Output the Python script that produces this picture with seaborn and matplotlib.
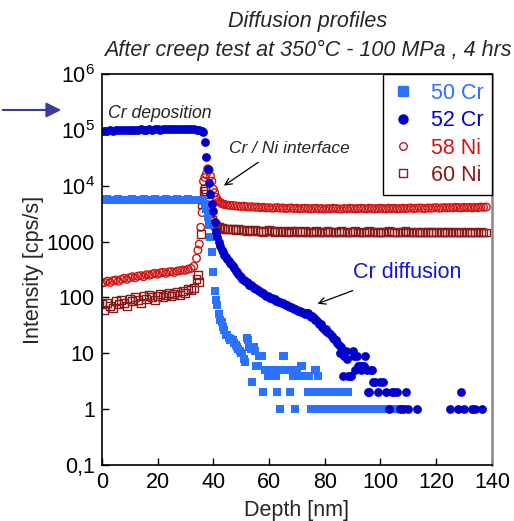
import numpy as np
import pandas as pd
import matplotlib
matplotlib.use("Agg")
import matplotlib.pyplot as plt
import seaborn as sns
from matplotlib.lines import Line2D
from matplotlib.ticker import NullLocator

nan = np.nan

# ---------------- data ----------------
# 50 Cr : plateau 0..35 nm every 1 nm, then every 0.5 nm from 36 nm
cr50_plateau = [5600, 5500, 5700, 5600, 5500, 5600, 5700, 5500, 5600, 5600,
                5500, 5700, 5600, 5500, 5600, 5700, 5600, 5500, 5600, 5700,
                5600, 5500, 5600, 5700, 5600, 5500, 5600, 5700, 5600, 5500,
                5600, 5700, 5600, 5500, 5600, 5600]
cr50_tail = [5600, 5400, 4800, 3800, 2800, 2000, 1200, 640,
             280, 130, 90, 74, 50, 40, 37, 30, 26, 21,
             21, 19, 17, 18, 17, 15, 14, 13, 12, 11,
             10, 10, 8, 7, 19, 17, 13, 12, 3, 13,
             11, 6, 6, 9, 9, 9, 2, 5, 5, 4,
             4, 5, 5, 5, 5, 4, 2, 5, 1, 5,
             9, 9, 5, 5, 5, 2, 5, 4, 5, 1,
             5, 4, 4, 6, 6, 4, 4, 4, 2, 4,
             1, 2, 1, 5, 5, 4, 2, 1, 2, 2,
             1, 2, 2, 1, 2, 1, 2, 1, 2, 1,
             2, 2, 1, 2, 1, 2, 1, 2, 1, 1,
             1, 1, 1, 1, 1, 1, 1, 1, 1, 1,
             1, 1, 1, 1, 1, 1, 1, 1, 1, 1,
             1, 1, 1, 1, 1, 1, 1, 1, nan, nan,
             nan, 1, 1, 1, 1, 1, 1]

# 52 Cr : plateau 0..35 nm every 1 nm, then every 0.5 nm from 36 nm, then sparse points
cr52_plateau = [96000, 97000, 95000, 98000, 97000, 99000, 98000, 100000, 99000, 101000,
                100000, 99000, 101000, 100000, 102000, 101000, 100000, 102000, 101000, 103000,
                102000, 101000, 103000, 102000, 104000, 103000, 102000, 104000, 103000, 104000,
                103000, 104000, 103000, 102000, 101000, 100000]
cr52_tail = [95000, 90000, 60000, 32000, 20000, 11000, 7000, 4800, 3500, 2200,
             1500, 1200, 1000, 850, 720, 640, 580, 520, 480, 450,
             420, 390, 360, 330, 300, 280, 260, 245, 230, 215,
             205, 195, 185, 178, 170, 165, 160, 150, 145, 140,
             135, 130, 125, 122, 118, 112, 108, 104, 103, 98,
             96, 93, 92, 88, 86, 84, 82, 80, 80, 76,
             74, 72, 70, 68, 68, 64, 62, 61, 60, 57,
             56, 55, 55, 53, 50, 52, 52, 48, 45, 46,
             42, 40, 40, 36, 33, 34, 30, 28, 26, 27,
             24, 23, 22, 20, 19, 18, 17, 15, 14, 10,
             13, 4, 9, 11, 8, 4, 4, 4, 11, 9,
             5, 9, 6, 6, 5, 6, 6, 9, 5, 2,
             2, 5, 5, 3, 3]
cr52_far_depth = [99, 100, 101, 102, 103, 104, 105, 106, 107, 108,
                  109, 110, 113, 125, 128, 129, 130, 133, 134, 136.5]
cr52_far = [2, 3, 3, 2, 1, 2, 2, 2, 1, 1,
            2, 1, 1, 1, 1, 2, 1, 1, 1, 1]

# 58 Ni : plateau 0..34 nm (1 nm), interface 34.5..43.5 (0.5 nm), then 44..138 (1 nm)
ni58_plateau = [180, 185, 195, 185, 200, 205, 195, 210, 220, 210,
                225, 235, 225, 240, 245, 235, 255, 250, 260, 270,
                260, 275, 280, 270, 285, 290, 280, 295, 300, 310,
                305, 320, 330, 360, 500]
ni58_interface = [700, 900, 1800, 3300, 12000, 14000, 16000, 20000, 19000, 15000,
                  12000, 8700, 7500, 6200, 5600, 5200, 5000, 4800, 4700]
ni58_far = [4600, 4500, 4450, 4400, 4350, 4300, 4250, 4300, 4200, 4150,
            4200, 4100, 4150, 4050, 4100, 4000, 4050, 3950, 4000, 4050,
            3950, 4000, 3900, 3950, 4000, 3900, 3950, 3850, 3900, 3950,
            3900, 3850, 3900, 3950, 3850, 3900, 3800, 3900, 3850, 3950,
            3900, 3850, 3800, 3900, 3850, 3950, 3900, 3850, 3900, 3950,
            3900, 3850, 3950, 3900, 3850, 3900, 3950, 3900, 3850, 3950,
            3900, 3950, 3850, 3900, 3950, 3900, 3950, 4000, 3900, 3950,
            4000, 3950, 3900, 4000, 3950, 4000, 4050, 3950, 4000, 4050,
            4000, 4050, 4000, 4100, 4050, 4000, 4100, 4050, 4100, 4000,
            4100, 4050, 4150, 4100, 4150]

# 60 Ni : plateau 0..34 nm (1 nm), interface 34.5..42.5 (0.5 nm), then 43..138 (1 nm)
ni60_plateau = [75, 60, 80, 70, 65, 85, 75, 90, 80, 70,
                95, 85, 100, 90, 80, 105, 95, 110, 100, 90,
                105, 115, 100, 110, 120, 105, 115, 125, 110, 130,
                120, 140, 135, 150, 210]
ni60_interface = [250, 190, 1350, 4700, 7900, 8700, 7000, 4500, 3200, 2800,
                  2400, 2100, 2000, 1900, 1850, 1800, 1750]
ni60_far = [1750, 1700, 1700, 1650, 1650, 1600, 1650, 1600, 1600, 1550,
            1600, 1550, 1600, 1550, 1550, 1500, 1550, 1600, 1550, 1500,
            1550, 1500, 1550, 1500, 1450, 1550, 1500, 1550, 1500, 1500,
            1550, 1500, 1450, 1500, 1550, 1500, 1450, 1500, 1550, 1500,
            1500, 1450, 1500, 1550, 1500, 1450, 1500, 1500, 1550, 1450,
            1500, 1450, 1500, 1550, 1500, 1450, 1500, 1500, 1450, 1500,
            1550, 1500, 1450, 1500, 1450, 1500, 1550, 1450, 1500, 1450,
            1500, 1450, 1500, 1450, 1500, 1500, 1450, 1500, 1450, 1500,
            1450, 1500, 1450, 1500, 1450, 1450, 1500, 1450, 1500, 1450,
            1450, 1500, 1450, 1500, 1450, 1450]

labels = ["50 Cr", "52 Cr", "58 Ni", "60 Ni"]
colors = ["#2A72FF", "#0000CC", "#D01515", "#8C1818"]
y_ticks = [0.1, 1, 10, 100, 1000, 1e4, 1e5, 1e6]
y_ticklabels = ["0,1", "1", "10", "100", "1000",
                r"$\mathregular{10^4}$", r"$\mathregular{10^5}$", r"$\mathregular{10^6}$"]
x_ticks = [0, 20, 40, 60, 80, 100, 120, 140]


def step(start, dx, vals):
    return start + dx * np.arange(len(vals))


cr50 = pd.DataFrame({
    "depth": np.concatenate([step(0, 1, cr50_plateau), step(36, 0.5, cr50_tail)]),
    "cps": cr50_plateau + cr50_tail})
cr52 = pd.DataFrame({
    "depth": np.concatenate([step(0, 1, cr52_plateau), step(36, 0.5, cr52_tail), cr52_far_depth]),
    "cps": cr52_plateau + cr52_tail + cr52_far})
ni58 = pd.DataFrame({
    "depth": np.concatenate([step(0, 1, ni58_plateau), step(34.5, 0.5, ni58_interface),
                             step(44, 1, ni58_far)]),
    "cps": ni58_plateau + ni58_interface + ni58_far})
ni60 = pd.DataFrame({
    "depth": np.concatenate([step(0, 1, ni60_plateau), step(34.5, 0.5, ni60_interface),
                             step(43, 1, ni60_far)]),
    "cps": ni60_plateau + ni60_interface + ni60_far})

# ---------------- plotting ----------------
sns.set_theme(style="ticks")
plt.rcParams["font.family"] = ["Liberation Sans", "DejaVu Sans"]
plt.rcParams["mathtext.fontset"] = "custom"
plt.rcParams["mathtext.rm"] = "Liberation Sans"

fig = plt.figure(figsize=(5.14, 5.21), dpi=100)
ax = fig.add_axes([0.198, 0.1075, 0.759, 0.7505])

sns.scatterplot(data=ni58, x="depth", y="cps", ax=ax, marker="o", s=30,
                facecolor="none", edgecolor=colors[2], linewidth=1.0)
sns.scatterplot(data=ni60, x="depth", y="cps", ax=ax, marker="s", s=32,
                facecolor="none", edgecolor=colors[3], linewidth=1.0)
sns.scatterplot(data=cr50, x="depth", y="cps", ax=ax, marker="s", s=40,
                color=colors[0], linewidth=0)
sns.scatterplot(data=cr52, x="depth", y="cps", ax=ax, marker="o", s=40,
                color=colors[1], linewidth=0)

ax.set_yscale("log")
ax.set_xlim(0, 140)
ax.set_ylim(0.1, 1e6)
ax.set_xticks(x_ticks)
ax.set_yticks(y_ticks)
ax.set_yticklabels(y_ticklabels)
ax.yaxis.set_minor_locator(NullLocator())
ax.tick_params(direction="in", length=5, width=1, labelsize=15.5, colors="black",
               top=False, right=False, pad=5)
ax.set_xlabel("Depth [nm]", fontsize=15.5, labelpad=5)
ax.set_ylabel("Intensity [cps/s]", fontsize=15.5, labelpad=2)
for side in ["left", "bottom", "top"]:
    ax.spines[side].set_color("black")
    ax.spines[side].set_linewidth(1.2)
ax.spines["right"].set_color("#888888")
ax.spines["right"].set_linewidth(1.8)

handles = [Line2D([], [], ls="", marker="s", color=colors[0], markersize=6.5),
           Line2D([], [], ls="", marker="o", color=colors[1], markersize=6.5),
           Line2D([], [], ls="", marker="o", markerfacecolor="none",
                  markeredgecolor=colors[2], markersize=5.5),
           Line2D([], [], ls="", marker="s", markerfacecolor="none",
                  markeredgecolor=colors[3], markersize=5.5)]
leg = ax.legend(handles, labels, loc="upper right", bbox_to_anchor=(1, 1),
                borderaxespad=0, fontsize=15.5, labelcolor=colors, fancybox=False,
                framealpha=1, edgecolor="black", handlelength=1.0,
                handletextpad=0.8, labelspacing=0.3, borderpad=0.4)
leg.get_frame().set_linewidth(1.0)

# annotations
ax.text(2.2, 1.95e5, "Cr deposition", fontsize=12.7, style="italic", va="center")
ax.annotate("", xy=(43, 9400), xytext=(57, 2.8e4),
            arrowprops=dict(arrowstyle="->", color="black", lw=0.9))
ax.text(45.5, 4.6e4, "Cr / Ni interface", fontsize=12.5, style="italic", va="center")
ax.annotate("", xy=(76.5, 74), xytext=(91, 138),
            arrowprops=dict(arrowstyle="->", color="black", lw=0.9))
ax.text(90, 280, "Cr diffusion", fontsize=15.5, color="#1414D8", va="center")

fig.add_artist(matplotlib.patches.FancyArrowPatch(
    (0.0, 1 - 110 / 521), (64 / 514, 1 - 110 / 521), transform=fig.transFigure,
    arrowstyle="-|>,head_length=0.6,head_width=0.3", color="#3C3CA0", lw=1.5,
    mutation_scale=15))

fig.text(308 / 514, 1 - 22 / 521, "Diffusion profiles", ha="center", va="center",
         fontsize=15.5, style="italic")
fig.text(308 / 514, 1 - 50 / 521, "After creep test at 350°C - 100 MPa , 4 hrs",
         ha="center", va="center", fontsize=15.5, style="italic")

fig.savefig("out.png", dpi=100)
